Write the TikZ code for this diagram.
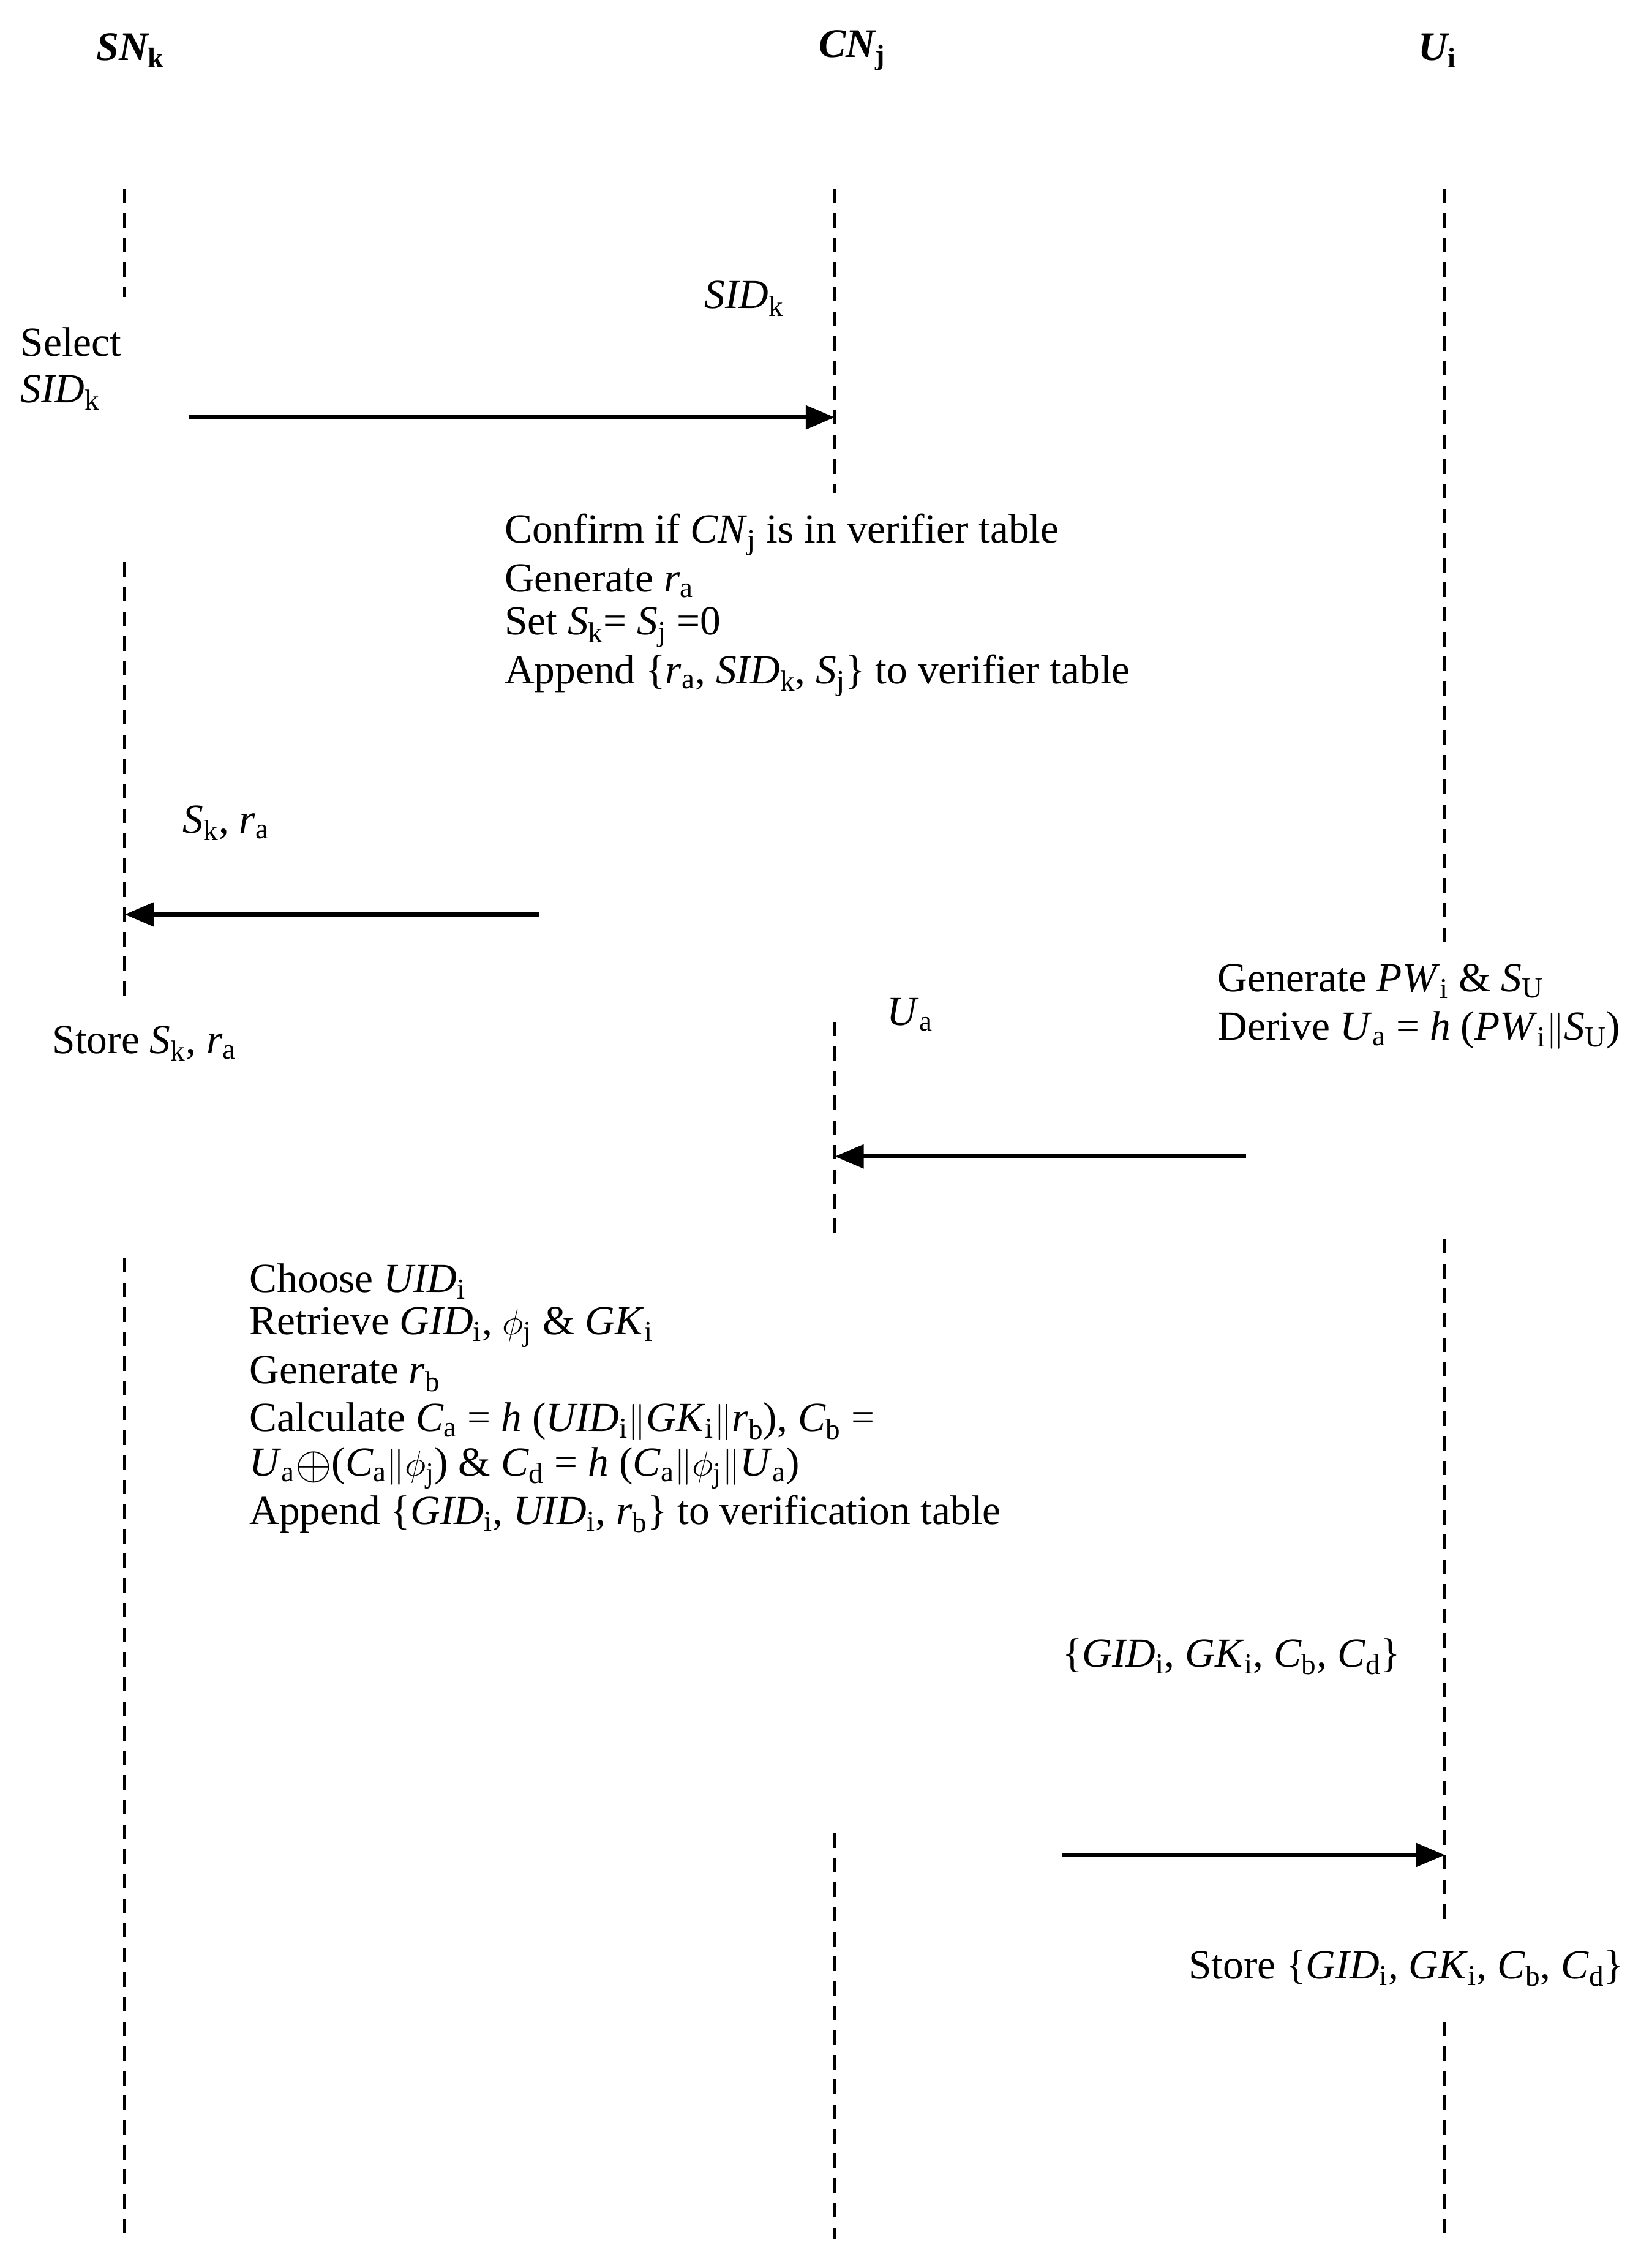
\documentclass[tikz,border=0pt]{standalone}
\usepackage{fontspec}
\setmainfont{Liberation Serif}
\usetikzlibrary{arrows.meta}
\newcommand{\sbs}[1]{\textsubscript{#1}}
\newcommand{\iv}[1]{\textit{#1}}
\begin{document}
\begin{tikzpicture}[x=1pt,y=-1pt,
  life/.style={line width=2.2pt,dash pattern=on 10pt off 7pt},
  msg/.style={line width=3pt,-{Triangle[length=20pt,width=16pt]}},
  txt/.style={anchor=west,inner sep=0pt,font=\fontsize{28.5}{34}\selectfont},
  hd/.style={inner sep=0pt,font=\fontsize{28}{32}\selectfont\bfseries\itshape}]
\useasboundingbox (0,0) rectangle (1132,1565);
\node[hd] (hsn) at (90,35) {SN\textsubscript{\upshape k}};
\node[hd] (hcn) at (588,35) {CN\textsubscript{\upshape j}};
\node[hd] (hu) at (992,35) {U\textsubscript{\upshape i}};
% lifelines
\coordinate (s1) at (86,130); \coordinate (s2) at (86,205);
\coordinate (s3) at (86,388); \coordinate (s4) at (86,690);
\coordinate (s5) at (86,868); \coordinate (s6) at (86,1545);
\coordinate (c1) at (576,130); \coordinate (c2) at (576,340);
\coordinate (c3) at (576,705); \coordinate (c4) at (576,855);
\coordinate (c5) at (576,1265); \coordinate (c6) at (576,1545);
\coordinate (u1) at (997,130); \coordinate (u2) at (997,650);
\coordinate (u3) at (997,855); \coordinate (u4) at (997,1325);
\coordinate (u5) at (997,1395); \coordinate (u6) at (997,1545);
\draw[life] (s1)--(s2) (s3)--(s4) (s5)--(s6);
\draw[life] (c1)--(c2) (c3)--(c4) (c5)--(c6);
\draw[life] (u1)--(u2) (u3)--(u4) (u5)--(u6);
% message 1
\node[txt] (sel1) at (14,236) {Select};
\node[txt] (sel2) at (14,271) {\iv{SID}\sbs{k}};
\node[txt] (m1) at (486,206) {\iv{SID}\sbs{k}};
\coordinate (a1s) at (130,288); \coordinate (a1e) at (576,288);
\draw[msg] (a1s)--(a1e);
\node[txt] (b1) at (348,369) {Confirm if \iv{CN}\sbs{j} is in verifier table};
\node[txt] (b2) at (348,401) {Generate \iv{r}\sbs{a}};
\node[txt] (b3) at (348,433) {Set \iv{S}\sbs{k}= \iv{S}\sbs{j} =0};
\node[txt] (b4) at (348,466) {Append \{\iv{r}\sbs{a}, \iv{SID}\sbs{k}, \iv{S}\sbs{j}\} to verifier table};
% message 2
\node[txt] (m2) at (126,568) {\iv{S}\sbs{k}, \iv{r}\sbs{a}};
\coordinate (a2s) at (372,631); \coordinate (a2e) at (86,631);
\draw[msg] (a2s)--(a2e);
\node[txt] (st1) at (36,720) {Store \iv{S}\sbs{k}, \iv{r}\sbs{a}};
% message 3
\node[txt] (g1) at (840,677) {Generate \iv{PW}\sbs{i} \& \iv{S}\sbs{U}};
\node[txt] (g2) at (840,711) {Derive \iv{U}\sbs{a} = \iv{h} (\iv{PW}\sbs{i}$\|$\iv{S}\sbs{U})};
\node[txt] (m3) at (612,700) {\iv{U}\sbs{a}};
\coordinate (a3s) at (860,798); \coordinate (a3e) at (576,798);
\draw[msg] (a3s)--(a3e);
% block 2
\node[txt] (d1) at (172,884) {Choose \iv{UID}\sbs{i}};
\node[txt] (d2) at (172,916) {Retrieve \iv{GID}\sbs{i}, $\phi$\sbs{j} \& \iv{GK}\sbs{i}};
\node[txt] (d3) at (172,948) {Generate \iv{r}\sbs{b}};
\node[txt] (d4) at (172,981) {Calculate \iv{C}\sbs{a} = \iv{h} (\iv{UID}\sbs{i}$\|$\iv{GK}\sbs{i}$\|$\iv{r}\sbs{b}), \iv{C}\sbs{b} =};
\node[txt] (d5) at (172,1013) {\iv{U}\sbs{a}\raisebox{-2pt}{\scalebox{1.3}{$\oplus$}}(\iv{C}\sbs{a}$\|\phi$\sbs{j}) \& \iv{C}\sbs{d} = \iv{h} (\iv{C}\sbs{a}$\|\phi$\sbs{j}$\|$\iv{U}\sbs{a})};
\node[txt] (d6) at (172,1045) {Append \{\iv{GID}\sbs{i}, \iv{UID}\sbs{i}, \iv{r}\sbs{b}\} to verification table};
% message 4
\node[txt] (m4) at (733,1143) {\{\iv{GID}\sbs{i}, \iv{GK}\sbs{i}, \iv{C}\sbs{b}, \iv{C}\sbs{d}\}};
\coordinate (a4s) at (733,1280); \coordinate (a4e) at (997,1280);
\draw[msg] (a4s)--(a4e);
\node[txt] (st2) at (820,1358) {Store \{\iv{GID}\sbs{i}, \iv{GK}\sbs{i}, \iv{C}\sbs{b}, \iv{C}\sbs{d}\}};
\end{tikzpicture}
\end{document}
